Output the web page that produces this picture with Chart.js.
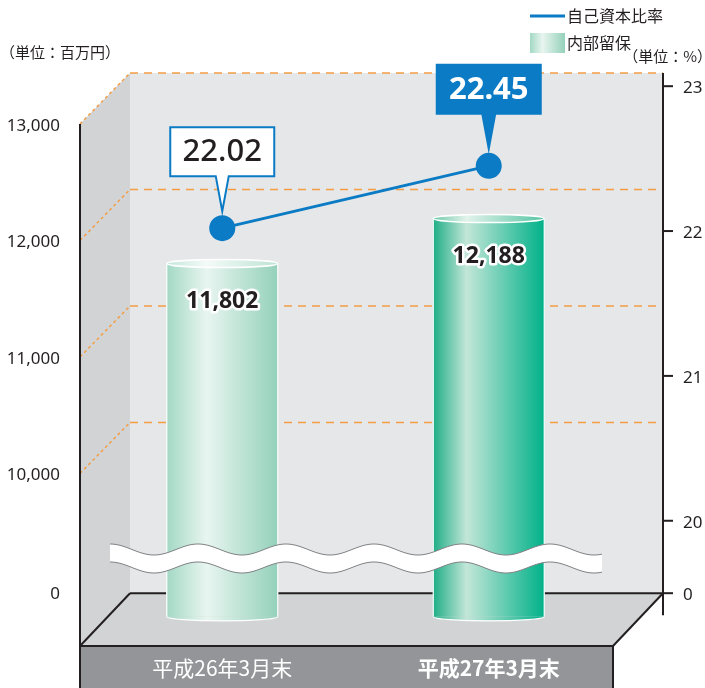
<!DOCTYPE html>
<html>
<head>
<meta charset="utf-8">
<script src="https://cdn.jsdelivr.net/npm/chart.js@4.4.1/dist/chart.umd.min.js"></script>
<style>
  html, body { margin: 0; padding: 0; background: #fff; }
  #wrap { width: 705px; height: 688px; }
</style>
</head>
<body>
<div id="wrap"><canvas id="chart" width="705" height="688"></canvas></div>
<script>
const categories = ['平成26年3月末', '平成27年3月末'];
const retainedEarnings = [11802, 12188];   // 内部留保（百万円）
const equityRatio = [22.02, 22.45];        // 自己資本比率（%）
const leftTickValues = [0, 10000, 11000, 12000, 13000];
const rightTickValues = [0, 20, 21, 22, 23];

// both axes are broken: this is where the "0" tick sits on each scale
const LEFT_BREAK = 8983;
const RIGHT_BREAK = 19.5;
const LEFT_MIN = 8769;

const BLUE = '#0a7bc4';
const INK = '#231f20';
const ORANGE = '#f49d45';
const FONT = '"Noto Sans", "Noto Sans CJK JP", sans-serif';
const JFONT = '"Noto Sans CJK JP", "Noto Sans", sans-serif';

// cylinder fills: left edge, highlight, right edge
const barStops = [
  [[0, '#a3d9c4'], [0.36, '#e8f5f0'], [1, '#94d1ba']],
  [[0, '#1fae87'], [0.3, '#c3e6d8'], [1, '#01b189']],
];
const capStops = [
  [[0, '#c4e7da'], [0.36, '#f4faf8'], [1, '#bde4d5']],
  [[0, '#6cc8a9'], [0.3, '#e2f3ec'], [1, '#55c4a2']],
];

// 3d box: front plane x range, depth offset, front edge of the floor
const FX0 = 80, FX1 = 613, DX = 50, DY = 51, FLOOR_FRONT = 646;

const fmt = v => String(v).replace(/\B(?=(\d{3})+(?!\d))/g, ',');

function hGrad(ctx, cx, w, stops) {
  const g = ctx.createLinearGradient(cx - w / 2, 0, cx + w / 2, 0);
  stops.forEach(s => g.addColorStop(s[0], s[1]));
  return g;
}

function poly(ctx, pts, fill) {
  ctx.beginPath();
  pts.forEach((p, i) => i ? ctx.lineTo(p[0], p[1]) : ctx.moveTo(p[0], p[1]));
  ctx.closePath();
  ctx.fillStyle = fill;
  ctx.fill();
}

function line(ctx, x0, y0, x1, y1) {
  ctx.beginPath(); ctx.moveTo(x0, y0); ctx.lineTo(x1, y1); ctx.stroke();
}

const frame = {
  id: 'frame',
  beforeDraw(chart) {
    const ctx = chart.ctx, yL = chart.scales.yL, yR = chart.scales.yR;
    const top = yL.getPixelForValue(13000);
    const floorB = yR.getPixelForValue(RIGHT_BREAK);
    const BX0 = FX0 + DX, BX1 = FX1 + DX;
    ctx.save();
    ctx.fillStyle = '#fff';
    ctx.fillRect(0, 0, chart.width, chart.height);

    ctx.fillStyle = '#e6e7e8';
    ctx.fillRect(BX0, top - DY, BX1 - BX0, floorB - top + DY);
    poly(ctx, [[FX0, top], [BX0, top - DY], [BX0, floorB], [FX0, FLOOR_FRONT]], '#d1d3d4');
    poly(ctx, [[BX0, floorB], [BX1, floorB], [FX1, FLOOR_FRONT], [FX0, FLOOR_FRONT]], '#d1d3d4');
    ctx.fillStyle = '#939598';
    ctx.fillRect(FX0, FLOOR_FRONT, FX1 - FX0, chart.height - FLOOR_FRONT);

    // orange gridlines, carried from the left axis onto the back wall
    ctx.strokeStyle = ORANGE;
    ctx.lineWidth = 1.5;
    leftTickValues.filter(v => v > 0).forEach(v => {
      const y = yL.getPixelForValue(v);
      ctx.setLineDash([3, 3]);
      line(ctx, FX0, y, BX0, y - DY);
      ctx.setLineDash([8, 6]);
      line(ctx, BX0, y - DY, BX1, y - DY);
    });
    ctx.setLineDash([]);

    ctx.strokeStyle = INK;
    ctx.lineWidth = 2;
    line(ctx, FX0, top, FX0, chart.height);
    line(ctx, BX0, floorB, BX1, floorB);
    line(ctx, BX0, floorB, FX0, FLOOR_FRONT);
    line(ctx, BX1, floorB, FX1, FLOOR_FRONT);
    line(ctx, FX0, FLOOR_FRONT, FX1, FLOOR_FRONT);
    line(ctx, FX1, FLOOR_FRONT, FX1, chart.height);
    line(ctx, BX1, top - DY, BX1, floorB + 22);
    yR.ticks.forEach(t => {
      const y = yR.getPixelForValue(t.value);
      line(ctx, BX1, y, BX1 + 10, y);
    });
    ctx.restore();
  },

  afterDatasetDraw(chart, args) {
    if (args.index !== 0) return;
    const ctx = chart.ctx;
    ctx.save();
    args.meta.data.forEach((el, i) => {
      const w = el.width, r = w / 2;
      // rounded base
      ctx.beginPath();
      ctx.ellipse(el.x, el.base, r, 4, 0, 0, Math.PI);
      ctx.fillStyle = hGrad(ctx, el.x, w, barStops[i]);
      ctx.fill();
      ctx.strokeStyle = '#fff';
      ctx.lineWidth = 1.2;
      ctx.stroke();
      line(ctx, el.x - r, el.y, el.x - r, el.base);
      line(ctx, el.x + r, el.y, el.x + r, el.base);
      // top cap
      ctx.beginPath();
      ctx.ellipse(el.x, el.y, r, 4, 0, 0, Math.PI * 2);
      ctx.fillStyle = hGrad(ctx, el.x, w, capStops[i]);
      ctx.fill();
      ctx.lineWidth = 1.5;
      ctx.stroke();
    });

    // wavy break band across the plot
    const x0 = 110, x1 = 602, yc = 549.5, amp = 5.5, period = 88, thick = 18;
    const f = x => yc - amp * Math.cos(2 * Math.PI * (x - x0) / period);
    ctx.beginPath();
    for (let x = x0; x <= x1; x += 1) ctx.lineTo(x, f(x));
    for (let x = x1; x >= x0; x -= 1) ctx.lineTo(x, f(x) + thick);
    ctx.closePath();
    ctx.fillStyle = '#fff';
    ctx.fill();
    ctx.strokeStyle = '#808285';
    ctx.lineWidth = 1;
    [0, thick].forEach(off => {
      ctx.beginPath();
      for (let x = x0; x <= x1; x += 1) ctx.lineTo(x, f(x) + off);
      ctx.stroke();
    });
    ctx.restore();
  },

  afterDatasetsDraw(chart) {
    const ctx = chart.ctx;
    ctx.save();
    // values inside the cylinders
    chart.getDatasetMeta(0).data.forEach((el, i) => {
      ctx.font = 'bold 23px ' + FONT;
      ctx.textAlign = 'center';
      ctx.textBaseline = 'alphabetic';
      ctx.lineJoin = 'round';
      ctx.lineWidth = 5;
      ctx.strokeStyle = '#fff';
      ctx.strokeText(fmt(retainedEarnings[i]), el.x, el.y + 44);
      ctx.fillStyle = INK;
      ctx.fillText(fmt(retainedEarnings[i]), el.x, el.y + 44);
    });
    // callouts above the ratio points
    chart.getDatasetMeta(1).data.forEach((pt, i) => {
      const last = i === equityRatio.length - 1;
      const w = 104, h = 49;
      const yb = pt.y - 52, yt = yb - h, tip = pt.y - 17;
      const xa = pt.x - w / 2, xb = pt.x + w / 2;
      ctx.beginPath();
      ctx.moveTo(xa, yt); ctx.lineTo(xb, yt); ctx.lineTo(xb, yb);
      ctx.lineTo(pt.x + 6.5, yb); ctx.lineTo(pt.x, tip); ctx.lineTo(pt.x - 6.5, yb);
      ctx.lineTo(xa, yb); ctx.closePath();
      ctx.fillStyle = last ? BLUE : '#fff';
      ctx.fill();
      ctx.strokeStyle = BLUE;
      ctx.lineWidth = 2;
      ctx.lineJoin = 'miter';
      ctx.stroke();
      ctx.font = (last ? 'bold 31px ' : '500 31px ') + FONT;
      ctx.fillStyle = last ? '#fff' : INK;
      ctx.textAlign = 'center';
      ctx.textBaseline = 'middle';
      ctx.fillText(equityRatio[i].toFixed(2), pt.x, yt + h / 2 + 1);
    });
    ctx.restore();
  },

  afterDraw(chart) {
    const ctx = chart.ctx;
    ctx.save();
    ctx.fillStyle = INK;
    ctx.textBaseline = 'middle';
    ctx.textAlign = 'left';
    // legend
    ctx.strokeStyle = BLUE;
    ctx.lineWidth = 3;
    line(ctx, 530, 16, 565, 16);
    ctx.fillStyle = hGrad(ctx, 547.5, 35, barStops[0]);
    ctx.fillRect(530, 33, 35, 20);
    ctx.fillStyle = INK;
    ctx.font = '16px ' + JFONT;
    ctx.fillText('自己資本比率', 567, 16);
    ctx.fillText('内部留保', 567, 43);
    // units
    ctx.font = '15px ' + JFONT;
    ctx.fillText('（単位：百万円）', 0, 52);
    ctx.textAlign = 'right';
    ctx.fillText('（単位：%）', 712, 56);
    ctx.restore();
  }
};

new Chart(document.getElementById('chart'), {
  data: {
    labels: categories,
    datasets: [
      {
        type: 'bar',
        label: '内部留保',
        data: retainedEarnings,
        yAxisID: 'yL',
        base: LEFT_MIN,
        order: 2,
        barThickness: 111,
        borderWidth: 0,
        backgroundColor(c) {
          const chart = c.chart;
          if (!chart.chartArea) return '#a3d9c4';
          const cx = chart.scales.x.getPixelForValue(c.dataIndex);
          return hGrad(chart.ctx, cx, 111, barStops[c.dataIndex]);
        }
      },
      {
        type: 'line',
        label: '自己資本比率',
        data: equityRatio,
        yAxisID: 'yR',
        order: 1,
        borderColor: BLUE,
        borderWidth: 3,
        pointRadius: 13,
        pointHoverRadius: 13,
        pointBackgroundColor: BLUE,
        pointBorderWidth: 0,
        tension: 0,
        clip: false
      }
    ]
  },
  options: {
    responsive: false,
    animation: false,
    devicePixelRatio: 1,
    layout: { padding: { top: 124, left: 0, right: 0, bottom: 0 } },
    plugins: { legend: { display: false }, tooltip: { enabled: false } },
    scales: {
      x: {
        type: 'category',
        offset: true,
        grid: { display: false, drawTicks: false },
        border: { display: false },
        ticks: {
          color: '#fff',
          padding: 39,
          font: c => ({ family: JFONT, size: 21, weight: c.index === 1 ? 'bold' : 'normal' })
        },
        afterFit: s => { s.height = 69; }
      },
      yL: {
        type: 'linear',
        position: 'left',
        min: LEFT_MIN,
        max: 13000,
        grid: { display: false, drawTicks: false },
        border: { display: false },
        afterBuildTicks: s => {
          s.ticks = leftTickValues.map(v => ({ value: v === 0 ? LEFT_BREAK : v }));
        },
        ticks: {
          autoSkip: false,
          padding: 29,
          labelOffset: 2,
          color: INK,
          font: { family: FONT, size: 17 },
          callback: v => v === LEFT_BREAK ? '0' : fmt(v)
        },
        afterFit: s => { s.width = 89; }
      },
      yR: {
        type: 'linear',
        position: 'right',
        min: 19.337,
        max: 22.739,
        grid: { display: false, drawTicks: false },
        border: { display: false },
        afterBuildTicks: s => {
          s.ticks = rightTickValues.map(v => ({ value: v === 0 ? RIGHT_BREAK : v }));
        },
        ticks: {
          autoSkip: false,
          padding: 61,
          labelOffset: 2,
          color: INK,
          font: { family: FONT, size: 17 },
          callback: v => v === RIGHT_BREAK ? '0' : String(v)
        },
        afterFit: s => { s.width = 83; }
      }
    }
  },
  plugins: [frame]
});
</script>
</body>
</html>
